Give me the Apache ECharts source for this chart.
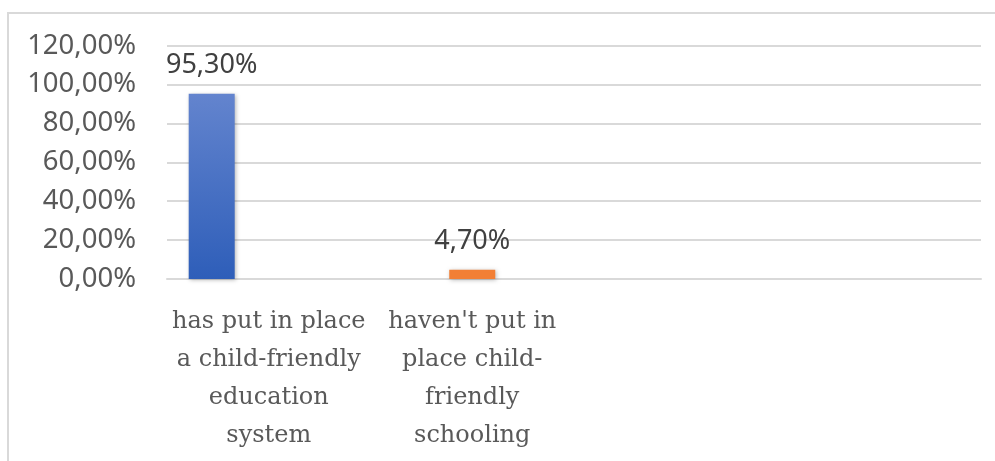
<!DOCTYPE html>
<html>
<head>
<meta charset="utf-8">
<script src="https://cdn.jsdelivr.net/npm/echarts@6/dist/echarts.min.js"></script>
<style>
html,body{margin:0;padding:0;background:#fff;}
#chart{width:995px;height:461px;}
</style>
</head>
<body>
<div id="chart"></div>
<script>
const categories = ['has put in place\na child-friendly\neducation\nsystem', "haven't put in\nplace child-\nfriendly\nschooling", '', ''];
const values = [95.3, 4.7];
const yTicks = { min: 0, max: 120, interval: 20 };

const fmt = v => v.toFixed(2).replace('.', ',') + '%';

const chart = echarts.init(document.getElementById('chart'));
const blueData = categories.map((c, i) => i === 0 ? values[0] : null);
const orangeData = categories.map((c, i) => i === 1 ? values[1] : null);
const emptyData = categories.map(() => null);

const labelCfg = {
  show: true, position: 'top', distance: 15,
  fontFamily: 'Noto Sans', fontSize: 27, color: '#404040',
  formatter: p => fmt(p.value)
};
const shadow = { shadowBlur: 4, shadowColor: 'rgba(0,0,0,0.28)', shadowOffsetX: 1, shadowOffsetY: 1 };

chart.setOption({
  animation: false,
  graphic: [{
    type: 'rect', shape: { x: 8, y: 13, width: 1000, height: 500 },
    style: { fill: 'none', stroke: '#d9d9d9', lineWidth: 2 }, silent: true
  }],
  grid: { left: 167, right: 14, top: 45.7, bottom: 182 },
  xAxis: {
    type: 'category', data: categories,
    axisLine: { show: true, lineStyle: { color: '#d9d9d9', width: 2 } },
    axisTick: { show: false },
    axisLabel: {
      interval: 0, margin: 24, fontFamily: 'DejaVu Serif', fontSize: 24,
      lineHeight: 38, color: '#595959', align: 'center'
    }
  },
  yAxis: {
    type: 'value', min: yTicks.min, max: yTicks.max, interval: yTicks.interval,
    axisLine: { show: false }, axisTick: { show: false },
    splitLine: { lineStyle: { color: '#d9d9d9', width: 2 } },
    axisLabel: {
      margin: 31, fontFamily: 'Noto Sans', fontSize: 27.5, color: '#595959',
      formatter: v => fmt(v)
    }
  },
  series: [
    {
      type: 'bar', data: blueData, barWidth: 46, barGap: '24%',
      itemStyle: Object.assign({
        color: new echarts.graphic.LinearGradient(0, 0, 0, 1, [
          { offset: 0, color: '#6384ce' }, { offset: 1, color: '#2e5eb9' }
        ])
      }, shadow),
      label: labelCfg
    },
    {
      type: 'bar', data: orangeData, barWidth: 46, barGap: '24%',
      itemStyle: Object.assign({ color: '#f27f35' }, shadow),
      label: labelCfg
    },
    { type: 'bar', data: emptyData, barWidth: 46, barGap: '24%' }
  ]
});
</script>
</body>
</html>
